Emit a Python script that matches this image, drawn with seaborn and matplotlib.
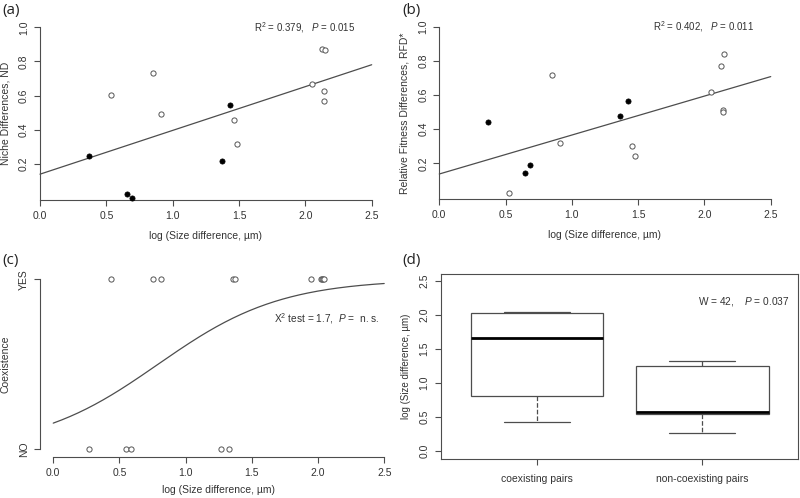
import numpy as np
import pandas as pd
import matplotlib
matplotlib.use('Agg')
import matplotlib.pyplot as plt
import seaborn as sns

sns.set_style('ticks')
plt.rcParams['font.family'] = ['Liberation Sans', 'DejaVu Sans']
plt.rcParams['mathtext.fontset'] = 'custom'
plt.rcParams['mathtext.rm'] = 'Liberation Sans'
plt.rcParams['mathtext.it'] = 'Liberation Sans:italic'

# panel (a): niche differences
a_x_filled = [0.372, 0.656, 0.693, 1.369, 1.432]
a_y_filled = [0.249, 0.024, 0.003, 0.218, 0.545]
a_x_open = [0.535, 0.852, 0.915, 1.460, 1.482, 2.048, 2.123, 2.148, 2.143, 2.138]
a_y_open = [0.606, 0.735, 0.491, 0.458, 0.317, 0.668, 0.875, 0.867, 0.629, 0.571]
a_fit = [0.141, 0.256]   # intercept, slope

# panel (b): relative fitness differences
b_x_filled = [0.365, 0.650, 0.685, 1.361, 1.426]
b_y_filled = [0.444, 0.141, 0.190, 0.479, 0.565]
b_x_open = [0.529, 0.847, 0.910, 1.457, 1.479, 2.046, 2.124, 2.145, 2.137, 2.137]
b_y_open = [0.028, 0.719, 0.321, 0.301, 0.243, 0.618, 0.768, 0.842, 0.514, 0.498]
b_fit = [0.138, 0.228]

# panel (c): coexistence (1 = YES, 0 = NO)
c_x_yes = [0.433, 0.750, 0.812, 1.356, 1.376, 1.947, 2.024, 2.032, 2.040, 2.047]
c_x_no = [0.269, 0.553, 0.591, 1.265, 1.328]
c_logit = [-1.70, 2.15]  # intercept, slope of logistic fit

# panel (d): five-number summaries
d_groups = ['coexisting pairs', 'non-coexisting pairs']
d_coex = [0.426, 0.807, 1.659, 2.025, 2.040]
d_noncoex = [0.269, 0.543, 0.582, 1.257, 1.321]

ink = '#333333'
line = '#4d4d4d'
tick_fs = 7.5
lab_fs = 7.5
ann_fs = 7

fig = plt.figure(figsize=(8, 4.98), dpi=100)

def style(ax, ylabel, xlabel):
    for s in ['top', 'right']:
        ax.spines[s].set_visible(False)
    for s in ['left', 'bottom']:
        ax.spines[s].set_color(line)
        ax.spines[s].set_linewidth(0.8)
    ax.tick_params(colors=line, labelcolor=ink, labelsize=tick_fs, length=4, width=0.8, pad=4)
    plt.setp(ax.get_yticklabels(), rotation=90, va='center')
    ax.set_ylabel(ylabel, fontsize=lab_fs, color=ink, labelpad=6)
    ax.set_xlabel(xlabel, fontsize=lab_fs, color=ink, labelpad=7)

def scatter_panel(ax, xf, yf, xo, yo, fit, ylabel, ann):
    sns.scatterplot(x=xo, y=yo, ax=ax, s=14, facecolor='white', edgecolor='#555555',
                    linewidth=0.7, clip_on=False, zorder=3)
    sns.scatterplot(x=xf, y=yf, ax=ax, s=14, color='black', edgecolor='black',
                    linewidth=0.5, clip_on=False, zorder=4)
    xs = np.array([0.0, 2.5])
    sns.lineplot(x=xs, y=fit[0] + fit[1] * xs, ax=ax, color=line, linewidth=0.9, clip_on=False)
    ax.set_xlim(0, 2.5)
    ax.set_ylim(-0.01, 1.0)
    ax.set_xticks([0.0, 0.5, 1.0, 1.5, 2.0, 2.5])
    ax.set_xticklabels(['0.0', '0.5', '1.0', '1.5', '2.0', '2.5'])
    ax.set_yticks([0.2, 0.4, 0.6, 0.8, 1.0])
    ax.set_yticklabels(['0.2', '0.4', '0.6', '0.8', '1.0'])
    style(ax, ylabel, 'log (Size difference, µm)')
    ax.text(1.61, 1.0, ann, fontsize=ann_fs, color=ink, ha='left', va='center')

ax_a = fig.add_axes([0.05, 0.5984, 0.4146, 0.3468])
scatter_panel(ax_a, a_x_filled, a_y_filled, a_x_open, a_y_open, a_fit,
              'Niche Differences, ND', 'R$^2$ = 0.379,   $P$ = 0.015')

ax_b = fig.add_axes([0.5491, 0.5998, 0.4143, 0.3466])
scatter_panel(ax_b, b_x_filled, b_y_filled, b_x_open, b_y_open, b_fit,
              'Relative Fitness Differences, RFD*', 'R$^2$ = 0.402,   $P$ = 0.011')

# panel (c)
ax_c = fig.add_axes([0.05, 0.0829, 0.4468, 0.3699])
sns.scatterplot(x=c_x_yes, y=[1] * len(c_x_yes), ax=ax_c, s=14, facecolor='white',
                edgecolor='#555555', linewidth=0.7, clip_on=False)
sns.scatterplot(x=c_x_no, y=[0] * len(c_x_no), ax=ax_c, s=14, facecolor='white',
                edgecolor='#555555', linewidth=0.7, clip_on=False)
xs = np.linspace(0, 2.5, 200)
sns.lineplot(x=xs, y=1 / (1 + np.exp(-(c_logit[0] + c_logit[1] * xs))), ax=ax_c,
             color=line, linewidth=0.9)
ax_c.set_xlim(-0.1, 2.6)
ax_c.set_ylim(-0.043, 1.04)
ax_c.set_xticks([0.0, 0.5, 1.0, 1.5, 2.0, 2.5])
ax_c.set_xticklabels(['0.0', '0.5', '1.0', '1.5', '2.0', '2.5'])
ax_c.set_yticks([0, 1])
ax_c.set_yticklabels(['NO', 'YES'])
ax_c.spines['left'].set_bounds(0, 1)
ax_c.spines['bottom'].set_bounds(0, 2.5)
style(ax_c, 'Coexistence', 'log (Size difference, µm)')
ax_c.xaxis.labelpad = 5
ax_c.text(1.665, 0.771, 'Χ$^2$ test = 1.7,  $P$ =  n. s.', fontsize=ann_fs + 0.3,
          color=ink, ha='left', va='center')

# panel (d)
ax_d = fig.add_axes([0.5509, 0.0783, 0.447, 0.3715])
df_d = pd.DataFrame({'group': [d_groups[0]] * len(d_coex) + [d_groups[1]] * len(d_noncoex),
                     'value': d_coex + d_noncoex})
sns.boxplot(data=df_d, x='group', y='value', order=d_groups, ax=ax_d, width=0.8,
            color='white', linecolor=line, linewidth=0.9, saturation=1,
            medianprops={'color': 'black', 'linewidth': 2.0},
            whiskerprops={'linestyle': '--'}, showfliers=False)
ax_d.set_xlim(-0.58, 1.58)
ax_d.set_ylim(-0.113, 2.603)
ax_d.set_yticks([0.0, 0.5, 1.0, 1.5, 2.0, 2.5])
ax_d.set_yticklabels(['0.0', '0.5', '1.0', '1.5', '2.0', '2.5'])
for s in ax_d.spines.values():
    s.set_color(line)
    s.set_linewidth(0.8)
ax_d.tick_params(colors=line, labelcolor=ink, labelsize=tick_fs, length=4, width=0.8, pad=4)
plt.setp(ax_d.get_yticklabels(), rotation=90, va='center')
ax_d.tick_params(axis='x', pad=7)
ax_d.set_xlabel('')
ax_d.set_ylabel('log (Size difference, µm)', fontsize=lab_fs - 0.5, color=ink, labelpad=6)
ax_d.text(0.972, 2.197, 'W = 42,    $P$ = 0.037', fontsize=ann_fs + 0.3, color=ink,
          ha='left', va='center')

# panel letters
for lbl, (px, py) in zip(['(a)', '(b)', '(c)', '(d)'],
                         [(2, 3), (402, 3), (2, 253), (402, 253)]):
    fig.text(px / 800, 1 - py / 498, lbl, fontsize=11, color='#222222', ha='left', va='top',
             family='Open Sans')

fig.savefig('out.png', dpi=100)
